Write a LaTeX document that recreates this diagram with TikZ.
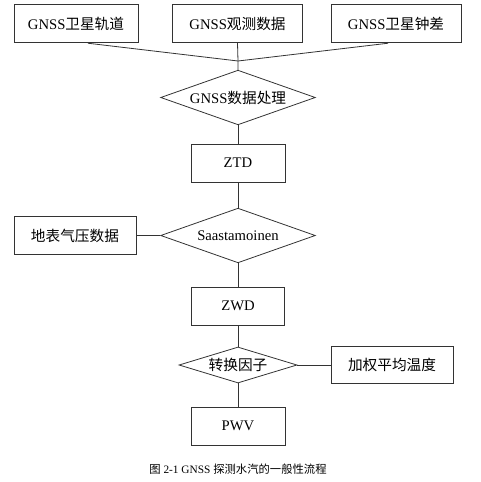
\documentclass[tikz,border=0pt]{standalone}
\usepackage{fontspec}
\setmainfont{Liberation Serif}
\newfontfamily\cjk{Noto Sans CJK SC}
\usepackage{tikz}
\usetikzlibrary{positioning}
\usetikzlibrary{shapes.geometric}
\tikzset{box/.style = {draw, rectangle, inner sep = 0, minimum height = 28.5pt,
                       font = \fontsize{11}{13}\selectfont}}
\tikzset{dia/.style = {draw, diamond, aspect = 2.8, inner sep = 0,
                       font = \fontsize{11}{13}\selectfont}}

\begin{document}
\begin{tikzpicture}[x=0.75pt, y=-0.75pt, line width=0.6pt, draw=black!80]
      \useasboundingbox (0,0) rectangle (480,482);

      \node[box, minimum width=93pt, minimum height=29pt] (orbit) at (76,23.5) {GNSS{\cjk 卫星轨道}};
      \node[box, minimum width=98pt, minimum height=29pt] (obs) at (237.5,23.5) {GNSS{\cjk 观测数据}};
      \node[box, minimum width=97.5pt, minimum height=29pt] (clock) at (396,23.5) {GNSS{\cjk 卫星钟差}};
      \coordinate (join) at (238,61);

      \node[dia, minimum width=116pt, minimum height=41pt] (proc) at (238,97.5) {GNSS{\cjk 数据处理}};
      \node[box, minimum width=70.5pt] (ztd) at (238,163) {ZTD};
      \node[dia, minimum width=116pt, minimum height=41pt] (saas) at (238,235.5) {Saastamoinen};
      \node[box, minimum width=91.5pt] (press) at (75,235.5) {\cjk 地表气压数据};
      \node[box, minimum width=70pt] (zwd) at (238,306) {ZWD};
      \node[dia, aspect=3.3, minimum width=88.5pt, minimum height=27pt] (conv) at (238,365) {\cjk 转换因子};
      \node[box, minimum width=91.5pt, minimum height=28pt] (temp) at (392,365) {\cjk 加权平均温度};
      \node[box, minimum width=70.5pt] (pwv) at (238,426) {PWV};

      \draw ([xshift=9pt]orbit.south) -- (join);
      \draw ([xshift=-6pt]clock.south) -- (join);
      \draw (obs.south) -- (join) -- (proc.north);
      \draw (proc.south) -- (ztd.north);
      \draw (ztd.south) -- (saas.north);
      \draw (press.east) -- (saas.west);
      \draw (saas.south) -- (zwd.north);
      \draw (zwd.south) -- (conv.north);
      \draw (conv.east) -- (temp.west);
      \draw (conv.south) -- (pwv.north);

      \node[font=\fontsize{8.5}{10}\selectfont] (cap) at (238,469) {{\cjk 图} 2-1 GNSS {\cjk 探测水汽的一般性流程}};
\end{tikzpicture}
\end{document}
